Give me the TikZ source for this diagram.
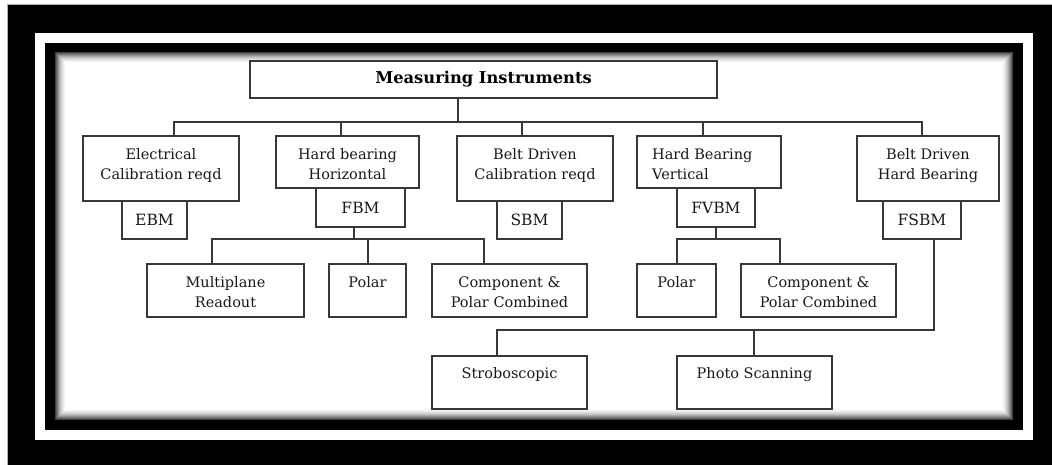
\documentclass[tikz,border=0pt]{standalone}
\usepackage{fontspec}
\setmainfont{DejaVu Serif}
\begin{document}
\begin{tikzpicture}[x=1pt,y=-1pt,
  box/.style={draw=black!78, line width=1.4pt, fill=white, inner sep=0pt, outer sep=0pt},
  txt/.style={inner sep=0pt, align=center, font=\fontsize{14.5}{20}\selectfont, text=black!90},
  abbr/.style={font=\fontsize{15.5}{18}\selectfont, text=black!90},
  ttl/.style={font=\bfseries\fontsize{16.3}{18}\selectfont, text=black},
  wire/.style={draw=black!78, line width=1.4pt}]
\newcommand\bx[6][]{\node[box,#1, minimum width={#5-#3}, minimum height={#6-#4}] (#2) at ({(#3+#5)/2},{(#4+#6)/2}) {};}
\useasboundingbox (0,0) rectangle (1052,465);
% frame
\fill[white] (0,0) rectangle (1052,465);
\draw[gray!60, line width=0.8pt, fill=black] (7,4) rectangle (1056,469);
\fill[white] (35,33) rectangle (1033,440);
\fill[black] (45,43) rectangle (1023,430);
\fill[white] (55,52) rectangle (1013,420);
\foreach \i in {0,...,11}{
  \pgfmathtruncatemacro\shd{75*(1-\i/12)^2}
  \draw[line width=1.1pt, black!\shd] ({55+\i+0.5},{52+\i+0.5}) rectangle ({1013-\i-0.5},{420-\i-0.5});
}
% boxes
\node[box, ttl, minimum width=467pt, minimum height=37pt] (meas) at (483.5,79.5) {Measuring Instruments};
\bx{elec}{83}{136}{239}{201}
\bx{ebm}{122}{201}{187}{239}
\bx{hbh}{276}{136}{419}{188}
\bx{fbm}{316}{188}{405}{227}
\bx{bdc}{457}{136}{613}{201}
\bx{sbm}{497}{201}{562}{239}
\bx{hbv}{637}{136}{781}{188}
\bx{fvbm}{677}{188}{755}{227}
\bx{bdhb}{857}{136}{999}{201}
\bx{fsbm}{883}{201}{961}{239}
\bx{mpr}{147}{264}{304}{317}
\bx{pola}{329}{264}{406}{317}
\bx{cpca}{432}{264}{587}{317}
\bx{polb}{637}{264}{716}{317}
\bx{cpcb}{741}{264}{896}{317}
\bx{strobo}{432}{356}{587}{409}
\bx{photo}{677}{356}{832}{409}
% texts
\node[abbr] (ebm-t) at (ebm.center) {EBM};
\node[abbr] (fbm-t) at (fbm.center) {FBM};
\node[abbr] (sbm-t) at (sbm.center) {SBM};
\node[abbr] (fvbm-t) at (fvbm.center) {FVBM};
\node[abbr] (fsbm-t) at (fsbm.center) {FSBM};
\node[txt, anchor=north] (elec-t) at ([yshift=-12.5pt]elec.north) {Electrical\\Calibration reqd};
\node[txt, anchor=north] (hbh-t) at ([yshift=-12.5pt]hbh.north) {Hard bearing\\Horizontal};
\node[txt, anchor=north] (bdc-t) at ([yshift=-12.5pt]bdc.north) {Belt Driven\\Calibration reqd};
\node[txt, anchor=north west, align=left] (hbv-t) at ([xshift=15pt,yshift=-12.5pt]hbv.north west) {Hard Bearing\\Vertical};
\node[txt, anchor=north] (bdhb-t) at ([yshift=-12.5pt]bdhb.north) {Belt Driven\\Hard Bearing};
\node[txt, anchor=north] (mpr-t) at ([yshift=-12.5pt]mpr.north) {Multiplane\\Readout};
\node[txt, anchor=north] (pola-t) at ([yshift=-12.5pt]pola.north) {Polar};
\node[txt, anchor=north] (cpca-t) at ([yshift=-12.5pt]cpca.north) {Component \&\\Polar Combined};
\node[txt, anchor=north] (polb-t) at ([yshift=-12.5pt]polb.north) {Polar};
\node[txt, anchor=north] (cpcb-t) at ([yshift=-12.5pt]cpcb.north) {Component \&\\Polar Combined};
\node[txt, anchor=north] (strobo-t) at ([yshift=-11.5pt]strobo.north) {Stroboscopic};
\node[txt, anchor=north] (photo-t) at ([yshift=-11.5pt]photo.north) {Photo Scanning};
% junctions
\coordinate (j0) at (458,122);
\coordinate (d1) at (174,122);
\coordinate (d2) at (341,122);
\coordinate (d3) at (522,122);
\coordinate (d4) at (703,122);
\coordinate (d5) at (922,122);
\coordinate (f0) at (354,239);
\coordinate (fa) at (212,239);
\coordinate (fb) at (368,239);
\coordinate (fc) at (484,239);
\coordinate (v0) at (716,239);
\coordinate (va) at (677,239);
\coordinate (vb) at (780,239);
\coordinate (s0) at (934,330);
\coordinate (sa) at (497,330);
\coordinate (sb) at (754,330);
% connectors
\draw[wire] (j0 |- meas.south) -- (j0);
\draw[wire] (d1 |- elec.north) -- (d1) -- (d5) -- (d5 |- bdhb.north);
\draw[wire] (d2) -- (d2 |- hbh.north);
\draw[wire] (d3) -- (d3 |- bdc.north);
\draw[wire] (d4) -- (d4 |- hbv.north);
\draw[wire] (f0 |- fbm.south) -- (f0);
\draw[wire] (fa |- mpr.north) -- (fa) -- (fc) -- (fc |- cpca.north);
\draw[wire] (fb) -- (fb |- pola.north);
\draw[wire] (v0 |- fvbm.south) -- (v0);
\draw[wire] (va |- polb.north) -- (va) -- (vb) -- (vb |- cpcb.north);
\draw[wire] (s0 |- fsbm.south) -- (s0) -- (sa) -- (sa |- strobo.north);
\draw[wire] (sb) -- (sb |- photo.north);
\end{tikzpicture}
\end{document}
